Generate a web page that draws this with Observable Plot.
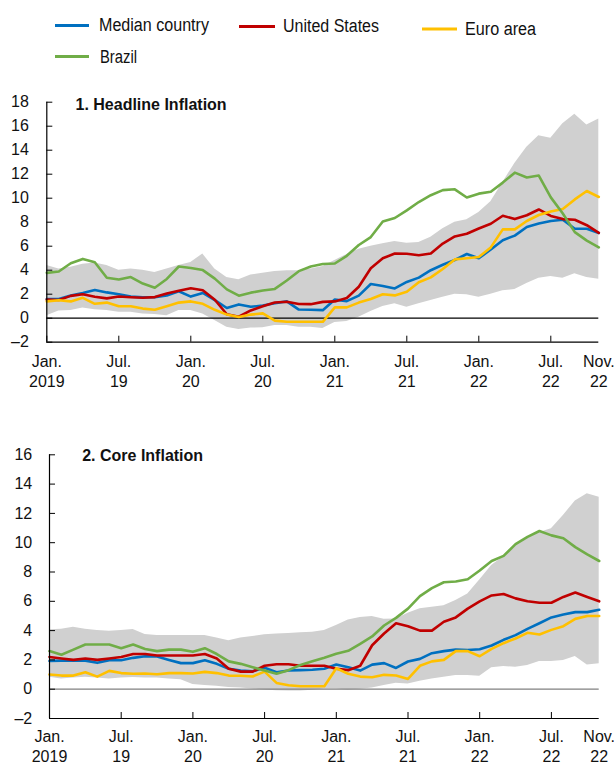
<!DOCTYPE html>
<html><head><meta charset="utf-8">
<script src="https://cdn.jsdelivr.net/npm/d3@7"></script>
<script src="https://cdn.jsdelivr.net/npm/@observablehq/plot@0.6"></script>
<style>
body{margin:0;background:#fff;}
#root{position:relative;width:614px;height:764px;overflow:hidden;font-family:"Liberation Sans",Arial,sans-serif;}
#root svg{position:absolute;left:0;}
</style></head><body><div id="root"></div>
<script>
// ---------- DATA ----------
const months = d3.utcMonth.range(new Date(Date.UTC(2019,0,1)), new Date(Date.UTC(2022,11,1))); // Jan 2019 .. Nov 2022
const seriesNames = ["Median country","United States","Euro area","Brazil"];
const seriesColors = ["#0070C0","#C00000","#FFC000","#70AD47"];
const xTickIndex = [0,6,12,18,24,30,36,42];
const xTickLabels = ["Jan.\n2019","Jul.\n19","Jan.\n20","Jul.\n20","Jan.\n21","Jul.\n21","Jan.\n22","Jul.\n22"];
const xEndLabel = "Nov.\n22";

// Panel 1: Headline inflation
const headlineMedian = [1.6,1.6,1.9,2.1,2.35,2.15,2.0,1.8,1.75,1.75,1.9,2.25,
 1.8,2.1,1.5,0.85,1.15,0.95,1.05,1.25,1.4,0.72,0.7,0.67,
 1.55,1.42,1.88,2.85,2.68,2.48,3.02,3.38,4.0,4.45,4.85,5.35,
 5.0,5.72,6.5,6.88,7.6,7.9,8.1,8.2,7.45,7.45,7.1];
const headlineUS = [1.55,1.52,1.86,2.00,1.79,1.65,1.81,1.75,1.71,1.76,2.05,2.29,
 2.49,2.33,1.54,0.33,0.12,0.65,0.99,1.31,1.37,1.18,1.17,1.36,
 1.40,1.68,2.62,4.16,4.99,5.39,5.37,5.25,5.39,6.22,6.81,7.04,
 7.48,7.87,8.54,8.26,8.58,9.06,8.52,8.26,8.20,7.75,7.11];
const headlineEuro = [1.4,1.5,1.4,1.7,1.2,1.3,1.0,1.0,0.8,0.7,1.0,1.3,
 1.4,1.2,0.7,0.3,0.1,0.3,0.4,-0.2,-0.3,-0.3,-0.3,-0.3,
 0.9,0.9,1.3,1.6,2.0,1.9,2.2,3.0,3.4,4.1,4.9,5.0,
 5.1,5.9,7.4,7.4,8.1,8.6,8.9,9.1,9.9,10.6,10.1];
const headlineBrazil = [3.78,3.89,4.58,4.94,4.66,3.37,3.22,3.43,2.89,2.54,3.27,4.31,
 4.19,4.01,3.30,2.40,1.88,2.13,2.31,2.44,3.14,3.92,4.31,4.52,
 4.56,5.20,6.10,6.76,8.06,8.35,8.99,9.68,10.25,10.67,10.74,10.06,
 10.38,10.54,11.30,12.13,11.73,11.89,10.07,8.73,7.17,6.47,5.90];
const headlineUpper = [4.4,4.1,4.25,4.5,4.6,4.4,4.0,4.1,4.0,3.8,4.1,4.4,
 4.65,5.35,4.1,3.4,3.2,3.6,3.75,3.9,3.95,3.95,4.1,4.3,
 4.8,5.3,5.75,6.0,6.2,6.4,6.25,6.3,6.75,7.45,8.0,8.2,
 8.8,9.7,11.3,12.9,14.25,15.2,15.0,16.2,17.0,16.1,16.6];
const headlineLower = [0.2,0.6,0.65,0.85,0.7,0.65,0.5,0.5,0.35,0.3,0.2,0.65,
 0.65,0.35,-0.2,-0.75,-0.95,-0.82,-0.8,-0.6,-0.6,-0.75,-0.75,-0.85,
 -0.36,-0.28,0.08,0.55,0.97,1.2,0.92,1.2,1.47,1.75,2.0,1.95,
 1.75,2.0,2.28,2.4,2.9,3.33,3.47,3.33,3.7,3.4,3.25];
const headlineYTicks = [-2,0,2,4,6,8,10,12,14,16,18];

// Panel 2: Core inflation
const coreMedian = [1.93,1.95,1.95,1.95,1.8,1.98,1.98,2.14,2.25,2.23,2.0,1.78,
 1.78,1.98,1.73,1.39,1.28,1.23,1.46,1.16,1.28,1.3,1.33,1.4,
 1.68,1.5,1.27,1.68,1.78,1.45,1.89,2.07,2.46,2.6,2.7,2.68,
 2.73,2.98,3.37,3.69,4.12,4.5,4.9,5.1,5.26,5.26,5.42];
const coreUS = [2.2,2.1,2.0,2.1,2.0,2.1,2.2,2.4,2.4,2.3,2.3,2.3,
 2.3,2.4,2.1,1.4,1.2,1.2,1.6,1.7,1.7,1.6,1.6,1.6,
 1.4,1.3,1.6,3.0,3.8,4.5,4.3,4.0,4.0,4.6,4.9,5.5,
 6.0,6.4,6.5,6.2,6.0,5.9,5.9,6.3,6.6,6.3,6.0];
const coreEuro = [1.0,0.93,0.93,1.16,0.86,1.25,1.1,1.05,1.07,1.02,1.1,1.1,
 1.07,1.18,1.1,0.93,0.92,0.87,1.2,0.43,0.27,0.2,0.2,0.2,
 1.43,1.05,0.86,0.82,0.98,0.93,0.7,1.6,1.9,2.0,2.6,2.6,
 2.25,2.75,3.14,3.46,3.85,3.73,4.05,4.3,4.8,5.0,5.0];
const coreBrazil = [2.6,2.35,2.7,3.05,3.05,3.05,2.8,3.05,2.75,2.6,2.7,2.7,
 2.55,2.8,2.4,1.9,1.73,1.5,1.28,1.05,1.3,1.65,1.9,2.15,
 2.42,2.62,3.1,3.6,4.35,4.87,5.5,6.35,6.9,7.3,7.35,7.5,
 8.1,8.75,9.1,9.9,10.4,10.8,10.5,10.3,9.7,9.2,8.75];
const coreUpper = [4.05,4.1,4.23,4.1,4.0,3.96,4.0,4.07,3.73,3.66,3.66,3.66,
 3.66,3.66,3.5,3.3,3.5,3.6,3.72,3.76,3.8,3.85,3.88,4.0,
 4.35,4.73,4.9,4.96,4.78,4.8,5.19,5.5,5.6,5.7,6.05,6.5,
 7.46,8.44,9.06,9.8,10.4,10.7,10.95,11.86,12.84,13.34,13.1];
const coreLower = [0.82,0.7,0.77,0.82,0.77,0.7,0.77,0.8,0.77,0.77,0.7,0.64,
 0.32,0.25,0.2,0.12,0.08,0.02,-0.05,-0.1,-0.12,-0.12,-0.08,0.02,
 0.02,-0.05,0.0,0.09,0.25,0.41,0.36,0.55,0.7,0.82,0.93,0.93,
 0.89,1.46,1.55,1.5,1.62,1.89,1.89,1.96,2.23,1.66,1.73];
const coreYTicks = [-2,0,2,4,6,8,10,12,14,16];

// ---------- RENDER ----------
const FONT = '"Liberation Sans", Arial, sans-serif';
const root = document.getElementById("root");

// Legend
const legendLayout = [
  {x1:55, x2:89, ly:25.5, tx:99, ty:31, tw:110},
  {x1:239, x2:275, ly:26.5, tx:283, ty:32, tw:96},
  {x1:422, x2:457, ly:29, tx:465, ty:35, tw:71},
  {x1:55, x2:89, ly:56.5, tx:100, ty:62.5, tw:37}
];
const leg = d3.create("svg").attr("width",614).attr("height",85).style("top","0px");
seriesNames.forEach((name,k) => {
  const L = legendLayout[k];
  leg.append("line").attr("x1",L.x1).attr("x2",L.x2).attr("y1",L.ly).attr("y2",L.ly)
     .attr("stroke",seriesColors[k]).attr("stroke-width",3);
  leg.append("text").attr("x",L.tx).attr("y",L.ty).text(name)
     .attr("font-family",FONT).attr("font-size",18).attr("fill","#111")
     .attr("textLength",L.tw).attr("lengthAdjust","spacingAndGlyphs");
});
root.appendChild(leg.node());

function panel(o) {
  const band = o.upper.map((u,i) => ({i, lo:o.lower[i], hi:u}));
  const vals = [o.median, o.us, o.euro, o.brazil];
  const svg = Plot.plot({
    width: 614, height: o.height,
    marginTop: o.mt, marginBottom: o.mb, marginLeft: o.ml, marginRight: o.mr,
    style: {fontFamily: FONT, fontSize: "16px", color: "#000", background: "transparent", overflow: "visible"},
    x: {domain: [0, months.length - 1], label: null},
    y: {domain: [o.yTicks[0], o.yTicks[o.yTicks.length-1]], label: null},
    marks: [
      Plot.areaY(band, {x:"i", y1:"lo", y2:"hi", fill:"#D0D0D0"}),
      Plot.ruleY([0], {stroke:o.zeroColor, strokeWidth:1.3}),
      ...vals.map((v,k) => Plot.line(v, {x:(d,i)=>i, y:d=>d, stroke:seriesColors[k], strokeWidth:2.6})),
      Plot.ruleY([o.yTicks[0]], {x1:0, x2:months.length-1, stroke:"#000", strokeWidth:1.2}),
      Plot.ruleX([0], {y1:o.yTicks[0], y2:o.yTicks[o.yTicks.length-1], stroke:"#000", strokeWidth:1.2}),
      Plot.axisY({ticks:o.yTicks, tickSize:-6, tickPadding:o.yPad, label:null, tickFormat:d=>d<0?"\u2013"+Math.abs(d):String(d), fill:"#111"}),
      Plot.axisX({ticks:xTickIndex, tickSize:-6, tickPadding:o.xPad, label:null, tickFormat:d=>xTickLabels[xTickIndex.indexOf(d)], lineHeight:1.25, fill:"#111"}),
      Plot.axisX({ticks:[months.length-1], tickSize:0, tickPadding:o.xPad-6, label:null, tickFormat:()=>xEndLabel, lineHeight:1.25, fill:"#111"}),
      Plot.text([o.title], {text:d=>d, frameAnchor:"top-left", dx:o.tdx, dy:o.tdy, textAnchor:"start", fontWeight:"bold", fontSize:16, fill:"#111"})
    ]
  });
  svg.style.top = o.top + "px";
  root.appendChild(svg);
}

panel({title:"1. Headline Inflation", median:headlineMedian, us:headlineUS, euro:headlineEuro, brazil:headlineBrazil,
  upper:headlineUpper, lower:headlineLower, yTicks:headlineYTicks,
  top:85, height:315, mt:16.7, mb:58.3, ml:46.3, mr:15.7, zeroColor:"#000",
  yPad:24, xPad:16.2, tdx:28.7, tdy:-4});

panel({title:"2. Core Inflation", median:coreMedian, us:coreUS, euro:coreEuro, brazil:coreBrazil,
  upper:coreUpper, lower:coreLower, yTicks:coreYTicks,
  top:436, height:328, mt:18.3, mb:46, ml:49, mr:15.3, zeroColor:"#808080",
  yPad:23.3, xPad:15.4, tdx:32.7, tdy:-4.7});
</script>
</body></html>
